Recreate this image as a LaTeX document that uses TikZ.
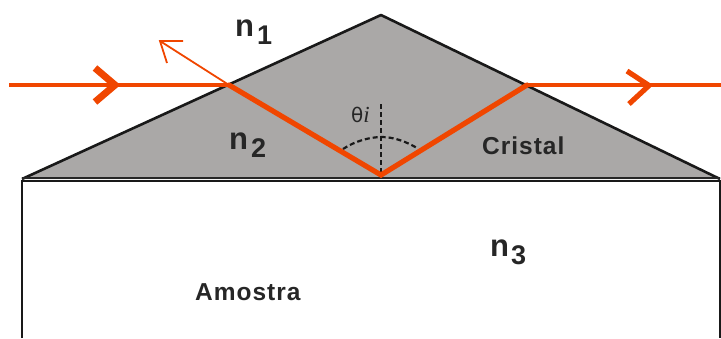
\documentclass[tikz,border=0pt]{standalone}
\usepackage{fontspec}
\setmainfont{Liberation Sans}
\begin{document}
\begin{tikzpicture}[x=1pt,y=-1pt,
  lbl/.style={inner sep=0pt,anchor=base west,text=black!85},
  big/.style={lbl,font=\fontsize{31}{31}\selectfont\bfseries},
  sub/.style={lbl,font=\fontsize{27}{27}\selectfont\bfseries},
  word/.style={lbl,font=\fontsize{24.5}{25}\selectfont\bfseries},
  ray/.style={draw=rayc,line width=5.2pt,line join=miter},
  hray/.style={draw=rayc,line width=4.4pt},
  thinray/.style={draw=rayc,line width=1.8pt},
  guide/.style={draw=black!90,line width=2.4pt,dash pattern=on 5pt off 3pt}]
\definecolor{rayc}{RGB}{240,70,0}
\definecolor{prism}{RGB}{170,168,167}
\useasboundingbox (0,0) rectangle (721,338);
\coordinate (A) at (381,15);
\coordinate (L) at (22,179);
\coordinate (R) at (720,179);
\coordinate (E) at (229,85);
\coordinate (B) at (381,175);
\coordinate (X) at (527,85);
\coordinate (S) at (9,85);
\coordinate (T) at (721,85);
\coordinate (Q) at (160,41);
\fill[prism] (L) -- (A) -- (R) -- cycle;
\draw[black!90,line width=2.6pt,line join=round] (L) -- (A) -- (R);
\draw[black!90,line width=2.4pt] (22,338) -- (22,181) -- (720,181) -- (720,338);
\draw[black!85,line width=2.4pt] (22,178) -- (720,178);
% normal and angle
\draw[guide] (381,104) -- (381,175);
\draw[guide,line width=2.2pt] (343,149) .. controls (355,141) and (370,137) .. (382,137) .. controls (394,137) and (407,142) .. (417,148);
% rays
\draw[hray] (S) -- (E);
\draw[ray,line cap=round] (E) -- (B) -- (X);
\draw[hray] (X) -- (T);
\draw[thinray] (E) -- (Q);
\draw[thinray] (183,41) -- (Q) -- (167,63);
\draw[ray,line width=7pt] (95,68) -- (115,85) -- (95,102);
\draw[ray] (627,71) -- (649,85.5) -- (629,104);
% labels
\node[big] (n1) at (235,36) {n};
\node[sub] (s1) at (257,44) {1};
\node[big] (n2) at (229,149) {n};
\node[sub] (s2) at (251,157) {2};
\node[big] (n3) at (490,256) {n};
\node[sub] (s3) at (511,264) {3};
\node[word] (cr) at (482,154) {\addfontfeature{LetterSpace=4}Cristal};
\node[word] (am) at (195,300) {\addfontfeature{LetterSpace=4}Amostra};
\node[lbl] (th) at (351,122) {\fontspec{DejaVu Sans}\fontsize{20}{20}\selectfont θ\fontspec{Liberation Serif}\itshape\fontsize{23}{23}\selectfont i};
\end{tikzpicture}
\end{document}
